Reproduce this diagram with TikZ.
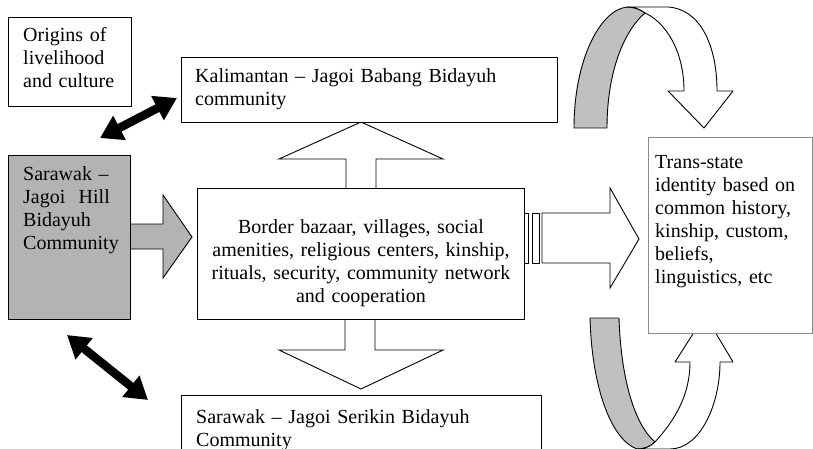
\documentclass[tikz,border=0pt]{standalone}
\usepackage{fontspec}
\setmainfont{Liberation Serif}
\usetikzlibrary{arrows.meta}
\definecolor{boxgray}{HTML}{B3B3B3}
\definecolor{curvegray}{HTML}{C0C0C0}
\definecolor{edgegray}{HTML}{8A8A8A}
\begin{document}
\begin{tikzpicture}[x=1pt,y=-1pt,
  box/.style={draw=black, line width=0.9pt, fill=white, inner sep=0pt, anchor=north west},
  txt/.style={font=\fontsize{20}{23}\selectfont, inner sep=0pt, anchor=base west, align=left},
  ctxt/.style={font=\fontsize{20}{23}\selectfont, inner sep=0pt, anchor=base, align=center},
  barrow/.style={draw=black, line width=0.9pt, fill=white, line join=miter},
  ribbon/.style={draw=black, line width=0.9pt, line join=round},
  dbl/.style={line width=8.5pt, {Triangle[length=22pt,width=26pt]}-{Triangle[length=22pt,width=26pt]}},
]
\useasboundingbox (0,0) rectangle (813,449);

% ---- curved ribbon arrows (drawn first, boxes over them)
% bottom
\path[ribbon, fill=curvegray] (590,318) -- (619,318) .. controls (621,380) and (635,425) .. (655,442)
  .. controls (650,447) and (644,449) .. (637,449) .. controls (612,440) and (592,390) .. (590,318) -- cycle;
\path[ribbon, fill=white] (655,442) .. controls (675,420) and (690,395) .. (690,362) -- (675,362) -- (705,315)
  -- (733,362) -- (720,362) .. controls (720,405) and (700,449) .. (670,449) -- (637,449)
  .. controls (644,449) and (650,447) .. (655,442) -- cycle;
% top
\path[ribbon, fill=curvegray] (574,128) -- (607,128) .. controls (607,70) and (625,30) .. (645,13)
  .. controls (640,9) and (634,7) .. (627,7) .. controls (600,10) and (574,60) .. (574,128) -- cycle;
\path[ribbon, fill=white] (627,7) -- (668,7) .. controls (700,9) and (717,45) .. (717,91) -- (733,91)
  -- (704,128) -- (668,91) -- (684,91) .. controls (684,50) and (665,22) .. (645,13)
  .. controls (640,9) and (634,7) .. (627,7) -- cycle;

% ---- trans-state box
\node[box, draw=edgegray, minimum width=164pt, minimum height=196pt] (trans) at (648,137) {};
\node[txt, text width=150pt] (transT) at (655,168) {Trans-state\\identity based on\\common history,\\kinship, custom,\\beliefs,\\linguistics, etc};

% ---- block arrows
\path[barrow] (346,190) -- (346,159) -- (279,159) -- (361,122) -- (443,159) -- (376,159) -- (376,190) -- cycle;
\path[barrow] (345,317) -- (345,350) -- (279,350) -- (361,389) -- (443,350) -- (375,350) -- (375,317) -- cycle;
\path[barrow, fill=boxgray] (125,224) -- (163,224) -- (163,195) -- (192,237) -- (163,278) -- (163,249) -- (125,249) -- cycle;
\path[barrow] (542,213) -- (610,213) -- (610,188) -- (639,239) -- (610,288) -- (610,263) -- (542,263) -- cycle;
\path[barrow] (524.5,213) rectangle (528,263);
\path[barrow] (532,213) rectangle (539,263);

% ---- boxes
\node[box, minimum width=123pt, minimum height=89pt] (orig) at (8,17) {};
\node[txt, text width=110pt] (origT) at (23,42) {Origins of\\livelihood\\and culture};

\node[box, minimum width=376pt, minimum height=65pt] (kali) at (181,57) {};
\node[txt, text width=350pt] (kaliT) at (195,83) {Kalimantan -- Jagoi Babang Bidayuh\\community};

\node[box, minimum width=327pt, minimum height=131pt] (center) at (197,188) {};
\node[ctxt, text width=320pt] (centerT) at (361,233) {Border bazaar, villages, social\\amenities, religious centers, kinship,\\rituals, security, community network\\and cooperation};

\node[box, fill=boxgray, minimum width=122pt, minimum height=164pt] (hill) at (8,155) {};
\node[txt, text width=110pt] (hillT) at (23,181) {Sarawak --\\Jagoi\ \ Hill\\Bidayuh\\Community};

\node[box, minimum width=360pt, minimum height=54pt] (seri) at (181,395) {};
\node[txt, text width=340pt] (seriT) at (196,423) {Sarawak -- Jagoi Serikin Bidayuh\\Community};

% ---- double arrows
\coordinate (u1) at (100,138);
\coordinate (u2) at (177,98);
\coordinate (l1) at (67,335);
\coordinate (l2) at (148,400);
\draw[dbl] (u1) -- (u2);
\draw[dbl] (l1) -- (l2);
\end{tikzpicture}
\end{document}
